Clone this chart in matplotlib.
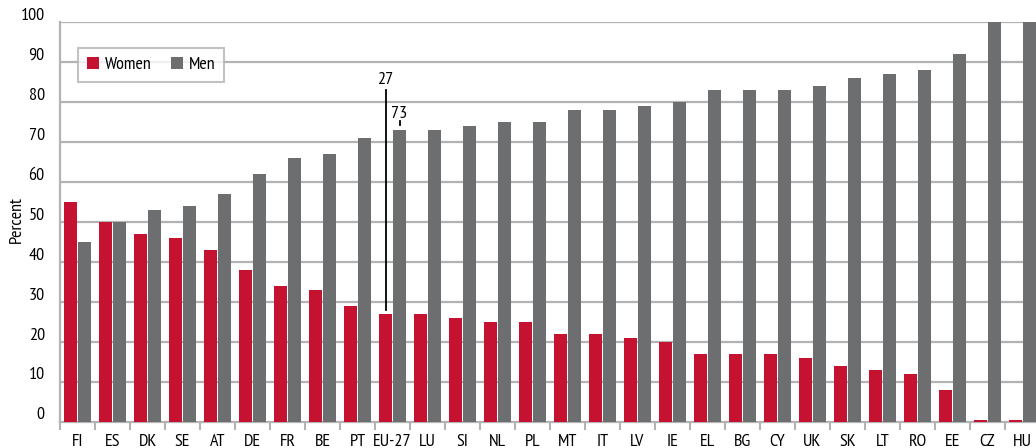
import matplotlib
matplotlib.use("Agg")
import matplotlib.pyplot as plt
from matplotlib.transforms import offset_copy
import numpy as np

plt.rcParams['font.family'] = ['PT Sans Narrow', 'Roboto Condensed', 'DejaVu Sans']

countries = ["FI", "ES", "DK", "SE", "AT", "DE", "FR", "BE", "PT", "EU-27", "LU", "SI", "NL", "PL",
             "MT", "IT", "LV", "IE", "EL", "BG", "CY", "UK", "SK", "LT", "RO", "EE", "CZ", "HU"]
women = [55, 50, 47, 46, 43, 38, 34, 33, 29, 27, 27, 26, 25, 25,
         22, 22, 21, 20, 17, 17, 17, 16, 14, 13, 12, 8, 0.4, 0.4]
men = [45, 50, 53, 54, 57, 62, 66, 67, 71, 73, 73, 74, 75, 75,
       78, 78, 79, 80, 83, 83, 83, 84, 86, 87, 88, 92, 100, 100]
yticks = [0, 10, 20, 30, 40, 50, 60, 70, 80, 90, 100]

RED = "#C41230"
GRAY = "#6D6E70"
GRID = "#B3B3B3"
FS = 13

W, H = 1036, 448
fig = plt.figure(figsize=(W / 100, H / 100), dpi=100)
ax = fig.add_axes([60 / W, (H - 421.5) / H, 980 / W, 399.5 / H])

x = np.arange(len(countries))
bw = 0.37
ax.bar(x - 0.2, women, width=bw, color=RED, label="Women", zorder=3)
ax.bar(x + 0.2, men, width=bw, color=GRAY, label="Men", zorder=3)

ax.set_xlim(-0.5, len(countries) - 0.5)
ax.set_ylim(0, 100)
ax.set_yticks(yticks)
for y in yticks[1:]:
    ax.axhline(y, color=GRID, lw=1.6, zorder=1)

ax.tick_params(axis='y', length=0, labelsize=FS, pad=11)
for lab in ax.get_yticklabels():
    lab.set_verticalalignment('baseline')
    lab.set_transform(offset_copy(lab.get_transform(), fig=fig, x=0, y=1.5, units='points'))
ax.set_xticks(x)
ax.set_xticklabels(countries, fontsize=FS)
ax.tick_params(axis='x', which='major', length=0, pad=9)
ax.set_xticks(np.arange(-0.5, len(countries), 1.0), minor=True)
ax.tick_params(axis='x', which='minor', length=6, width=1.5, color=GRID, direction='out')

for s in ['top', 'right']:
    ax.spines[s].set_visible(False)
ax.spines['left'].set_color(GRID)
ax.spines['left'].set_linewidth(1.6)
ax.spines['bottom'].set_color(GRID)
ax.spines['bottom'].set_linewidth(1.6)

fig.text(17 / W, 1 - 219 / H, "Percent", rotation=90, ha='center', va='center', fontsize=FS)

# EU-27 annotations
i = countries.index("EU-27")
ax.plot([i - 0.2, i - 0.2], [women[i] + 0.9, 83], color="black", lw=1.3, zorder=4)
ax.text(i - 0.2, 84.6, str(women[i]), ha='center', va='baseline', fontsize=FS)
ax.plot([i + 0.2, i + 0.2], [men[i] + 1.1, men[i] + 2.3], color="black", lw=1.3, zorder=4)
ax.text(i + 0.2, men[i] + 2.9, str(men[i]), ha='center', va='baseline', fontsize=FS)

leg = ax.legend(loc='upper left', bbox_to_anchor=(18 / 980, 1 - 26 / 399.5), ncol=2, frameon=True,
                fancybox=False, edgecolor=GRID, fontsize=FS, handlelength=0.65, handleheight=0.65,
                columnspacing=1.05, handletextpad=0.35, borderpad=0.5, borderaxespad=0)
leg.get_frame().set_linewidth(1.5)
leg.set_zorder(5)

fig.savefig("out.png", dpi=100)
